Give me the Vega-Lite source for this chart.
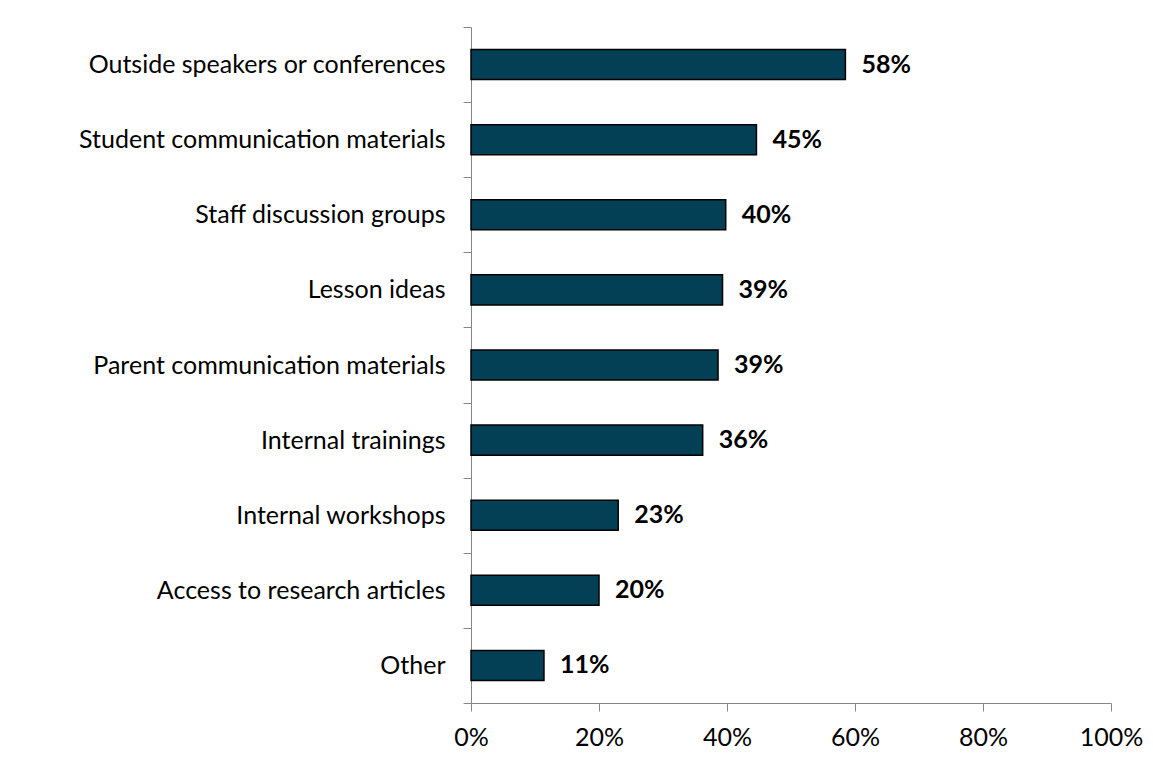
{
  "$schema": "https://vega.github.io/schema/vega-lite/v6.json",
  "autosize": "none",
  "padding": {"left": 471, "top": 27, "right": 42, "bottom": 70},
  "width": 640,
  "height": 676,
  "background": "white",
  "data": {"values": [
    {"category": "Outside speakers or conferences", "value": 0.585, "label": "58%"},
    {"category": "Student communication materials", "value": 0.446, "label": "45%"},
    {"category": "Staff discussion groups", "value": 0.398, "label": "40%"},
    {"category": "Lesson ideas", "value": 0.393, "label": "39%"},
    {"category": "Parent communication materials", "value": 0.386, "label": "39%"},
    {"category": "Internal trainings", "value": 0.362, "label": "36%"},
    {"category": "Internal workshops", "value": 0.23, "label": "23%"},
    {"category": "Access to research articles", "value": 0.2, "label": "20%"},
    {"category": "Other", "value": 0.114, "label": "11%"}
  ]},
  "encoding": {
    "y": {"field": "category", "type": "nominal", "sort": null,
      "scale": {"paddingInner": 0, "paddingOuter": 0},
      "axis": {"title": null, "tickBand": "extent", "domainColor": "#868686", "tickColor": "#868686",
        "tickSize": 8, "labelPadding": 18, "labelFont": "Lato", "labelFontSize": 25, "labelColor": "#000000", "labelLimit": 500}},
    "x": {"field": "value", "type": "quantitative",
      "scale": {"domain": [0, 1], "nice": false},
      "axis": {"title": null, "format": ".0%", "values": [0, 0.2, 0.4, 0.6, 0.8, 1], "grid": false,
        "domainColor": "#868686", "tickColor": "#868686", "tickSize": 8, "labelPadding": 14,
        "labelFont": "Lato", "labelFontSize": 25, "labelColor": "#000000", "labelFlush": false}}
  },
  "layer": [
    {"mark": {"type": "bar", "height": {"band": 0.4}, "color": "#033F55", "stroke": "#000000", "strokeWidth": 1.5}},
    {"mark": {"type": "text", "align": "left", "baseline": "middle", "dx": 16, "font": "Lato", "fontSize": 25, "fontWeight": "bold", "color": "#000000"},
      "encoding": {"text": {"field": "label"}}}
  ],
  "config": {"view": {"stroke": null}}
}
